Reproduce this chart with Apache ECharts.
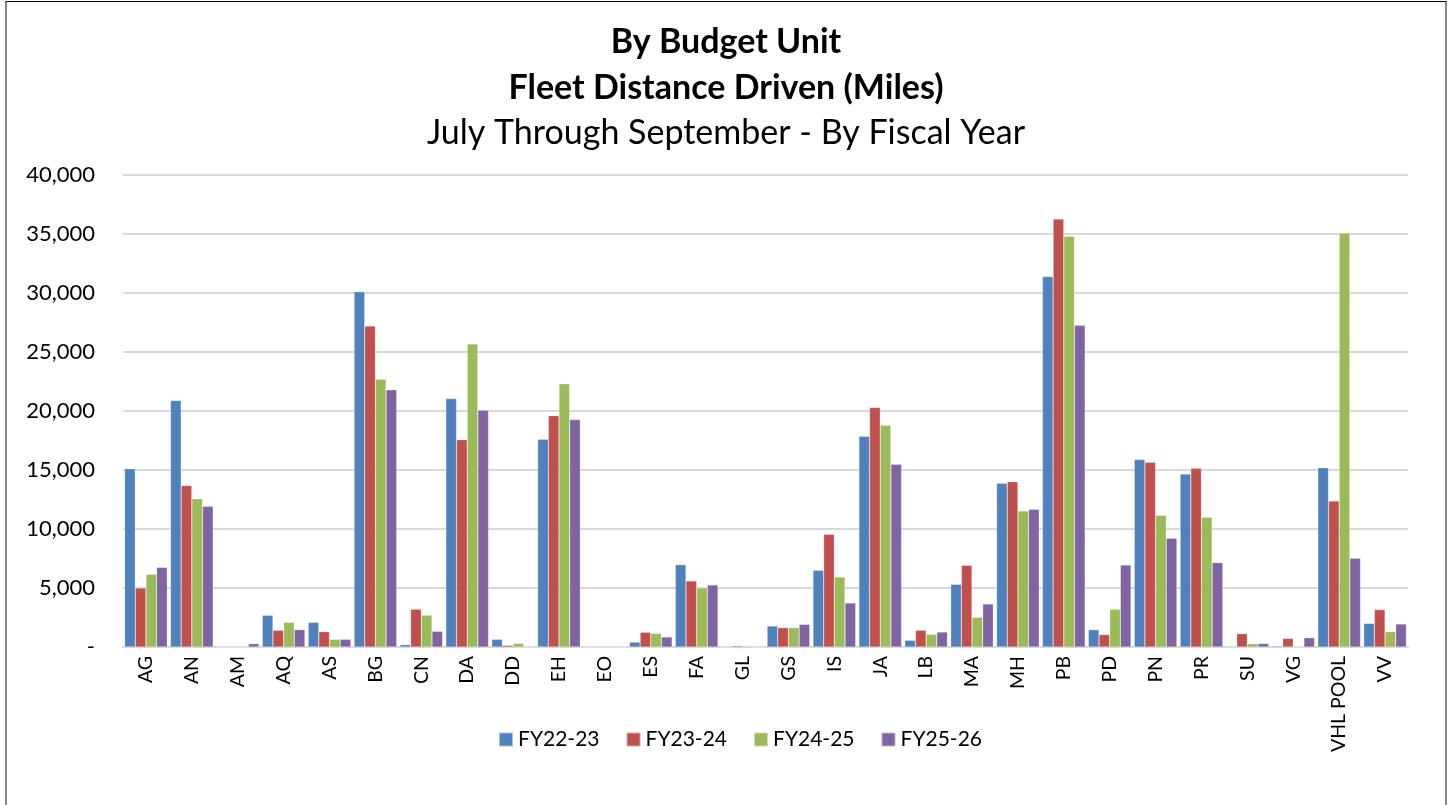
<!DOCTYPE html>
<html>
<head>
<meta charset="utf-8">
<title>Fleet Distance Driven</title>
<script src="https://cdn.jsdelivr.net/npm/echarts@6/dist/echarts.min.js"></script>
<style>
  html, body {
    margin: 0;
    padding: 0;
    background: #fff;
  }
  #frame {
    position: absolute;
    left: 5px;
    top: 1px;
    width: 1438px;
    height: 804px;
    border-top: 1px solid #000;
    border-left: 2px solid #888;
    border-right: 2px solid #888;
  }
  #chart {
    position: absolute;
    left: 0;
    top: 0;
    width: 1452px;
    height: 805px;
  }
</style>
</head>
<body>
<div id="frame"></div>
<div id="chart"></div>
<script>
const categories = ["AG", "AN", "AM", "AQ", "AS", "BG", "CN", "DA", "DD", "EH", "EO", "ES", "FA", "GL", "GS", "IS", "JA", "LB", "MA", "MH", "PB", "PD", "PN", "PR", "SU", "VG", "VHL POOL", "VV"];

const fy2223 = [15100, 20900, 0, 2690, 2090, 30100, 200, 21050, 650, 17600, 0, 420, 6980, 0, 1780, 6500, 17860, 570, 5310, 13870, 31390, 1470, 15880, 14660, 0, 80, 15200, 2000];
const fy2324 = [5000, 13680, 0, 1420, 1300, 27200, 3200, 17570, 140, 19600, 0, 1250, 5600, 100, 1640, 9550, 20300, 1420, 6920, 14010, 36270, 1050, 15650, 15140, 1130, 730, 12370, 3170];
const fy2425 = [6160, 12570, 0, 2090, 650, 22700, 2700, 25680, 310, 22300, 0, 1160, 5000, 80, 1640, 5930, 18800, 1080, 2520, 11530, 34800, 3200, 11160, 10990, 280, 0, 35080, 1300];
const fy2526 = [6750, 11920, 280, 1470, 650, 21800, 1330, 20060, 0, 19270, 0, 850, 5260, 0, 1920, 3730, 15480, 1270, 3650, 11670, 27260, 6950, 9210, 7150, 300, 790, 7520, 1950];

const seriesNames = ["FY22-23", "FY23-24", "FY24-25", "FY25-26"];
const seriesColors = ["#4f81bd", "#c0504d", "#9bbb59", "#8064a2"];
const seriesData = [fy2223, fy2324, fy2425, fy2526];

const yTicks = { min: 0, max: 40000, interval: 5000 };

const font = "Lato, 'Open Sans', sans-serif";
const chart = echarts.init(document.getElementById("chart"), null, { renderer: "canvas" });

chart.setOption({
  animation: false,
  textStyle: { fontFamily: font },
  title: [
    {
      text: "By Budget Unit",
      left: "center",
      top: 20,
      textStyle: { fontFamily: font, fontSize: 34, fontWeight: "bold", color: "#000" }
    },
    {
      text: "Fleet Distance Driven (Miles)",
      left: "center",
      top: 66,
      textStyle: { fontFamily: font, fontSize: 34, fontWeight: "bold", color: "#000" }
    },
    {
      text: "July Through September - By Fiscal Year",
      left: "center",
      top: 111,
      textStyle: { fontFamily: font, fontSize: 34, fontWeight: "normal", color: "#000" }
    }
  ],
  legend: {
    data: seriesNames,
    top: 724,
    left: 493,
    icon: "rect",
    itemWidth: 14,
    itemHeight: 14,
    itemGap: 26,
    textStyle: { fontFamily: font, fontSize: 21, color: "#000" }
  },
  grid: {
    left: 123,
    right: 44,
    top: 175,
    bottom: 158,
    containLabel: false
  },
  xAxis: {
    type: "category",
    data: categories,
    axisTick: { show: false },
    axisLine: { lineStyle: { color: "#d9d9d9", width: 2 } },
    axisLabel: {
      rotate: 90,
      interval: 0,
      margin: 9,
      color: "#000",
      fontSize: 19.5,
      fontFamily: font
    }
  },
  yAxis: {
    type: "value",
    min: yTicks.min,
    max: yTicks.max,
    interval: yTicks.interval,
    axisLine: { show: false },
    axisTick: { show: false },
    splitLine: { lineStyle: { color: "#d9d9d9", width: 2 } },
    axisLabel: {
      color: "#000",
      fontSize: 22,
      fontFamily: font,
      margin: 28,
      formatter: v => v === 0 ? "-" : v.toLocaleString("en-US")
    }
  },
  series: seriesNames.map((name, i) => ({
    name: name,
    type: "bar",
    data: seriesData[i],
    barGap: "0%",
    barCategoryGap: "7%",
    itemStyle: {
      color: seriesColors[i],
      borderColor: "rgba(255,255,255,0.5)",
      borderWidth: 0.5
    }
  }))
});
</script>
</body>
</html>
